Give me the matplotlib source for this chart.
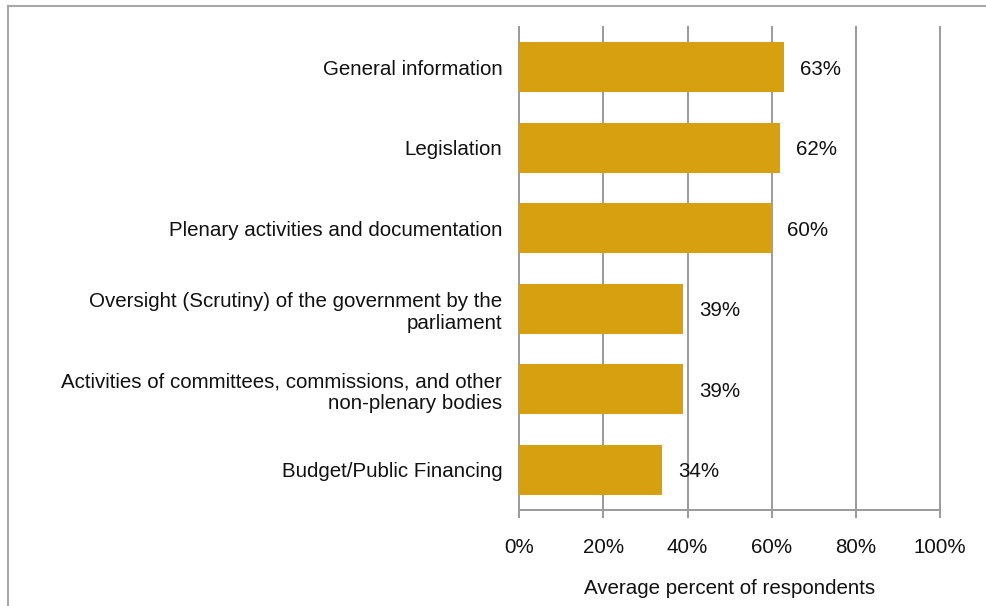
import matplotlib.pyplot as plt
from matplotlib.lines import Line2D

# Dados do gráfico
categorias = [
    "General information",
    "Legislation",
    "Plenary activities and documentation",
    "Oversight (Scrutiny) of the government by the\nparliament",
    "Activities of committees, commissions, and other\nnon-plenary bodies",
    "Budget/Public Financing",
]
valores = [63, 62, 60, 39, 39, 34]
ticks_x = [0, 20, 40, 60, 80, 100]
rotulos_x = ["0%", "20%", "40%", "60%", "80%", "100%"]

plt.rcParams['font.family'] = ['Liberation Sans', 'DejaVu Sans']
cor_barra = '#D6A011'
cinza = '#9A9A9A'
fs = 14.8

fig = plt.figure(figsize=(9.86, 6.06), dpi=100)
ax = fig.add_axes([0.5264, 0.1584, 0.4272, 0.797])

pos = list(range(len(categorias)))
ax.barh(pos, valores, height=0.62, color=cor_barra, zorder=3)
ax.set_ylim(len(categorias) - 0.5, -0.5)
ax.set_xlim(0, 100)

for p, v in zip(pos, valores):
    ax.text(v + 3.7, p, f"{v}%", va='center_baseline', ha='left', fontsize=fs, color='#111111', zorder=4)

ax.set_yticks(pos)
ax.set_yticklabels(categorias, fontsize=fs, color='#111111', ha='right', linespacing=1.2)
ax.tick_params(axis='y', length=0, pad=12)
ax.set_xticks(ticks_x)
ax.set_xticklabels(rotulos_x, fontsize=fs, color='#111111')
ax.tick_params(axis='x', length=6, width=1.4, color=cinza, pad=14)
ax.set_xlabel("Average percent of respondents", fontsize=fs, color='#111111', labelpad=16)

ax.grid(axis='x', color=cinza, linewidth=1.4, zorder=0)
for linha in ax.get_xgridlines():
    linha.set_clip_on(False)
for lado in ['top', 'right', 'left']:
    ax.spines[lado].set_visible(False)
ax.spines['bottom'].set_color(cinza)
ax.spines['bottom'].set_linewidth(1.4)

# moldura cinza (topo e esquerda)
y_topo = 1 - 5.5 / 606
x_esq = 7.5 / 986
fig.add_artist(Line2D([x_esq, 1], [y_topo, y_topo], color='#A8A8A8', linewidth=1.5))
fig.add_artist(Line2D([x_esq, x_esq], [0, y_topo], color='#A8A8A8', linewidth=1.5))

fig.savefig('out.png', dpi=100)
